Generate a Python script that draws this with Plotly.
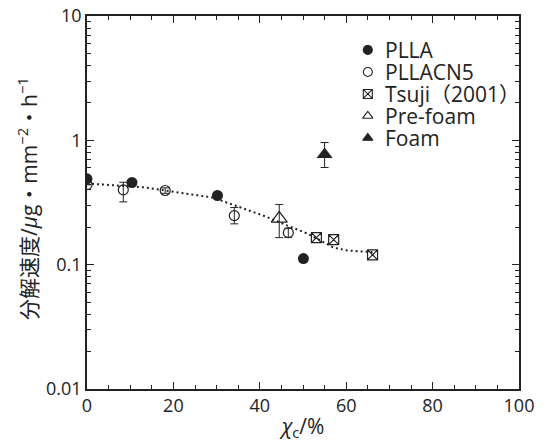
import plotly.graph_objects as go

# PLLA (filled circles)
plla_x = [0, 10.4, 30.2, 50.1]
plla_y = [0.49, 0.458, 0.36, 0.112]

# PLLACN5 (open circles) with error bars
cn5_x = [0, 8.4, 18.1, 34.1, 46.6]
cn5_y = [0.44, 0.40, 0.395, 0.248, 0.181]
cn5_err_plus = [0.0, 0.06, 0.02, 0.04, 0.015]
cn5_err_minus = [0.0, 0.08, 0.02, 0.035, 0.015]

# Tsuji (2001)
tsuji_x = [53.1, 57.1, 66.1]
tsuji_y = [0.165, 0.159, 0.12]

# Pre-foam
pre_x = [44.5]
pre_y = [0.235]
pre_err_plus = [0.07]
pre_err_minus = [0.07]

# Foam
foam_x = [55.0]
foam_y = [0.77]
foam_err_plus = [0.19]
foam_err_minus = [0.165]

# dotted trend curve
curve_x = [0, 7.2, 13.5, 22.7, 29, 34.3, 40.8, 46.4, 51, 54.1, 57.1, 60.3, 65, 66.1]
curve_y = [0.45, 0.434, 0.418, 0.374, 0.347, 0.299, 0.248, 0.206, 0.178, 0.156, 0.137, 0.130, 0.127, 0.126]

# legend entries
legend_names = ["PLLA", "PLLACN5", "Tsuji（2001）", "Pre-foam", "Foam"]
legend_symbols = ["circle", "circle-open", "square-x-open", "triangle-up-open", "triangle-up"]

# axis titles
x_title = "<i>χ</i><sub>c</sub>/%"
y_title = "分解速度/<i>μ</i>g・mm<sup>−2</sup>・h<sup>−1</sup>"

# tick values
x_minor_ticks = [v for v in range(0, 101, 5) if v % 20 != 0]
y_major_ticks = [0.01, 0.1, 1, 10]
y_major_text = ["0.01", "0.1", "1", "10"]
y_minor_ticks = [d * m for m in (0.01, 0.1, 1) for d in range(2, 10)]

FONT = "Open Sans, Liberation Sans, Noto Sans CJK JP, sans-serif"
INK = "#222"

fig = go.Figure()

fig.add_trace(go.Scatter(x=curve_x, y=curve_y, mode="lines",
                         line=dict(color=INK, width=2, dash="2px,3px"),
                         showlegend=False, hoverinfo="skip"))

fig.add_trace(go.Scatter(x=plla_x, y=plla_y, mode="markers", name=legend_names[0],
                         marker=dict(symbol="circle", size=11, color=INK),
                         showlegend=False))

fig.add_trace(go.Scatter(x=cn5_x, y=cn5_y, mode="markers", name=legend_names[1],
                         marker=dict(symbol="circle-open", size=10, color=INK, line=dict(width=1.2)),
                         error_y=dict(type="data", array=cn5_err_plus, arrayminus=cn5_err_minus,
                                      color=INK, thickness=1, width=4),
                         showlegend=False))

fig.add_trace(go.Scatter(x=tsuji_x, y=tsuji_y, mode="markers", name=legend_names[2],
                         marker=dict(symbol="square-x-open", size=10, color=INK, line=dict(width=1.2)),
                         showlegend=False))

fig.add_trace(go.Scatter(x=pre_x, y=pre_y, mode="markers", name=legend_names[3],
                         marker=dict(symbol="triangle-up-open", size=14, color=INK, line=dict(width=1.2)),
                         error_y=dict(type="data", array=pre_err_plus, arrayminus=pre_err_minus,
                                      color=INK, thickness=1, width=4),
                         showlegend=False))

fig.add_trace(go.Scatter(x=foam_x, y=foam_y, mode="markers", name=legend_names[4],
                         marker=dict(symbol="triangle-up", size=14, color=INK),
                         error_y=dict(type="data", array=foam_err_plus, arrayminus=foam_err_minus,
                                      color=INK, thickness=1, width=4),
                         showlegend=False))

# custom legend on an invisible overlay axis (0..1 coordinates over the plot area)
leg_x0 = 0.650
leg_top = 0.909
leg_step = 0.059
leg_rows = [leg_top - i * leg_step for i in range(len(legend_names))]
fig.add_trace(go.Scatter(x=[leg_x0] * len(legend_names), y=leg_rows, xaxis="x2", yaxis="y2",
                         mode="markers", showlegend=False, hoverinfo="skip",
                         marker=dict(symbol=legend_symbols, size=9, color=INK,
                                     line=dict(width=1.1, color=INK))))
for name, yy in zip(legend_names, leg_rows):
    fig.add_annotation(x=leg_x0 + 0.036, y=yy, xref="x2", yref="y2", text=name,
                       showarrow=False, xanchor="left", yanchor="middle",
                       font=dict(family=FONT, size=21, color=INK))

# y-axis title as a rotated annotation for exact placement
fig.add_annotation(x=-0.139, y=0.512, xref="paper", yref="paper", text=y_title,
                   textangle=-90, showarrow=False, xanchor="center", yanchor="middle",
                   font=dict(family=FONT, size=21, color=INK))

tickfont = dict(family=FONT, size=18, color=INK)
axis_common = dict(showline=True, linecolor=INK, linewidth=1.5, mirror="ticks",
                   ticks="inside", tickcolor=INK, showgrid=False, zeroline=False,
                   automargin=False, tickfont=tickfont)

fig.update_xaxes(range=[0, 100], tick0=0, dtick=20, ticklen=7, tickwidth=1,
                 minor=dict(ticks="inside", tickmode="array", tickvals=x_minor_ticks,
                            ticklen=4, tickcolor=INK, tickwidth=1),
                 title=dict(text=x_title, font=dict(family=FONT, size=21, color=INK), standoff=5),
                 **axis_common)
fig.update_yaxes(type="log", range=[-2, 1], tickmode="array", tickvals=y_major_ticks,
                 ticktext=y_major_text, ticklen=7, tickwidth=1,
                 minor=dict(ticks="inside", tickmode="array", tickvals=y_minor_ticks,
                            ticklen=4, tickcolor=INK, tickwidth=1),
                 **axis_common)

fig.update_layout(
    width=550, height=442,
    margin=dict(l=87, r=31, t=16, b=53, autoexpand=False),
    paper_bgcolor="white", plot_bgcolor="white",
    font=dict(family=FONT, color=INK, size=17),
    showlegend=False,
    xaxis2=dict(overlaying="x", range=[0, 1], visible=False, fixedrange=True),
    yaxis2=dict(overlaying="y", range=[0, 1], visible=False, fixedrange=True),
)

fig.write_html("out.html", config={"displayModeBar": False})

# remove default page margin so the figure sits at the window origin
with open("out.html", "r", encoding="utf-8") as f:
    html = f.read()
html = html.replace("<head>", "<head><style>html,body{margin:0;padding:0;overflow:hidden;}</style>", 1)
with open("out.html", "w", encoding="utf-8") as f:
    f.write(html)
